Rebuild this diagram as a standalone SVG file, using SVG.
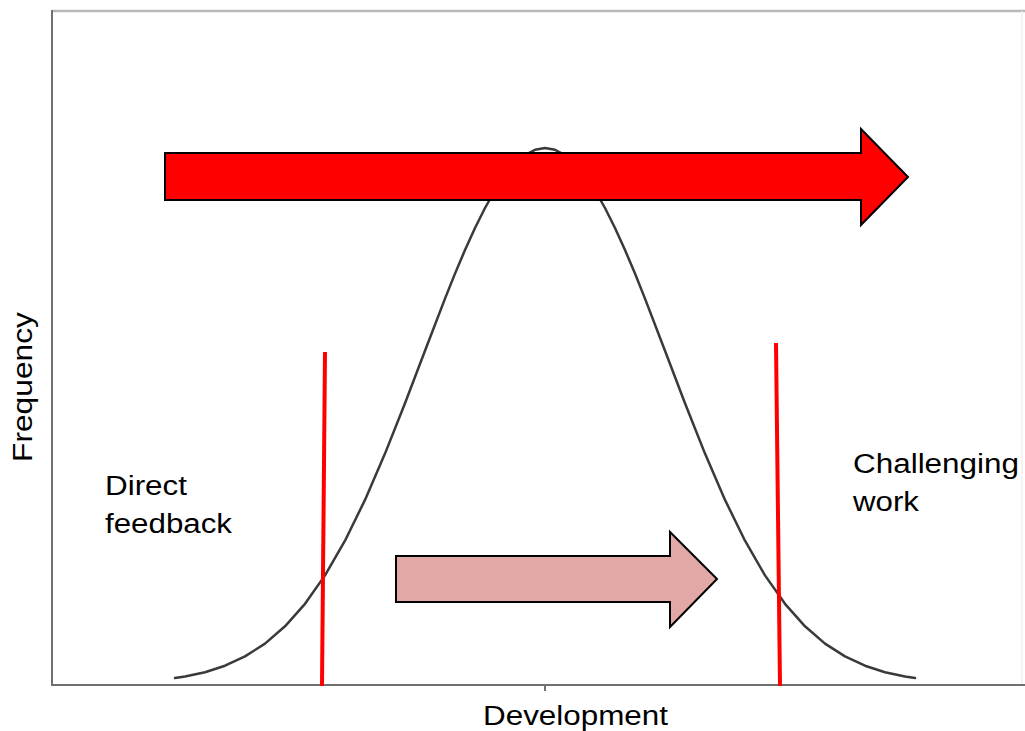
<svg xmlns="http://www.w3.org/2000/svg" width="1025" height="731" viewBox="0 0 1025 731">
<style>
.lbl{font-family:"Liberation Sans",Arial,sans-serif;font-size:27px;fill:#000}
.ax{stroke:#707070;stroke-width:2;fill:none}
.cut{stroke:#ff0000;stroke-width:4;fill:none}
.arrow{stroke:#000;stroke-width:2;stroke-linejoin:miter}
</style>
<rect width="1025" height="731" fill="#fff"/>
<g id="axes">
<line x1="52" y1="11" x2="1025" y2="11" stroke="#b8b8b8" stroke-width="2.5"/>
<line x1="1022" y1="11" x2="1022" y2="685" stroke="#f0f0f0" stroke-width="1.5"/>
<line class="ax" x1="52" y1="10" x2="52" y2="686"/>
<line class="ax" x1="52" y1="685" x2="1025" y2="685"/>
<line class="ax" x1="545" y1="685" x2="545" y2="691" stroke-width="1.5"/>
</g>
<g id="bell">
<path fill="none" stroke="#3a3a3a" stroke-width="2.5" stroke-linejoin="round" stroke-linecap="round" d="M175,678.1 L185,676.5 L205,672.2 L225,665.7 L245,656.4 L265,643.6 L285,626.3 L305,603.8 L325,575.4 L345,540.7 L365,499.9 L385,453.6 L405,403.2 L425,350.7 L445,298.6 L455,273.6 L465,250 L475,228 L485,208 L495,190.4 L505,175.5 L515,163.7 L525,155 L535,149.8 L545,148 L555,149.8 L565,155 L575,163.7 L585,175.5 L595,190.4 L605,208 L615,228 L625,250 L635,273.6 L645,298.6 L665,350.7 L685,403.2 L705,453.6 L725,499.9 L745,540.7 L765,575.4 L785,603.8 L805,626.3 L825,643.6 L845,656.4 L865,665.7 L885,672.2 L905,676.5 L915,678.1"/>
</g>
<g id="connectors">
<line class="cut" x1="325" y1="352" x2="322" y2="686"/>
<line class="cut" x1="776" y1="343" x2="780" y2="686"/>
</g>
<g id="big-arrow">
<polygon class="arrow" fill="#ff0000" points="165,153 861,153 861,129 908,177 861,225 861,200 165,200"/>
</g>
<g id="small-arrow">
<polygon class="arrow" fill="#e2a8a5" points="396,556 670,556 670,532 717,579 670,627 670,602 396,602"/>
</g>
<g id="label-direct">
<text class="lbl" x="105" y="495" textLength="82" lengthAdjust="spacingAndGlyphs">Direct</text>
<text class="lbl" x="105" y="533" textLength="127" lengthAdjust="spacingAndGlyphs">feedback</text>
</g>
<g id="label-challenging">
<text class="lbl" x="853" y="473" textLength="166" lengthAdjust="spacingAndGlyphs">Challenging</text>
<text class="lbl" x="853" y="511" textLength="66" lengthAdjust="spacingAndGlyphs">work</text>
</g>
<g id="label-x">
<text class="lbl" x="483" y="725" textLength="185" lengthAdjust="spacingAndGlyphs">Development</text>
</g>
<g id="label-y">
<text class="lbl" transform="translate(32,462) rotate(-90)" x="0" y="0" textLength="150" lengthAdjust="spacingAndGlyphs">Frequency</text>
</g>
</svg>
